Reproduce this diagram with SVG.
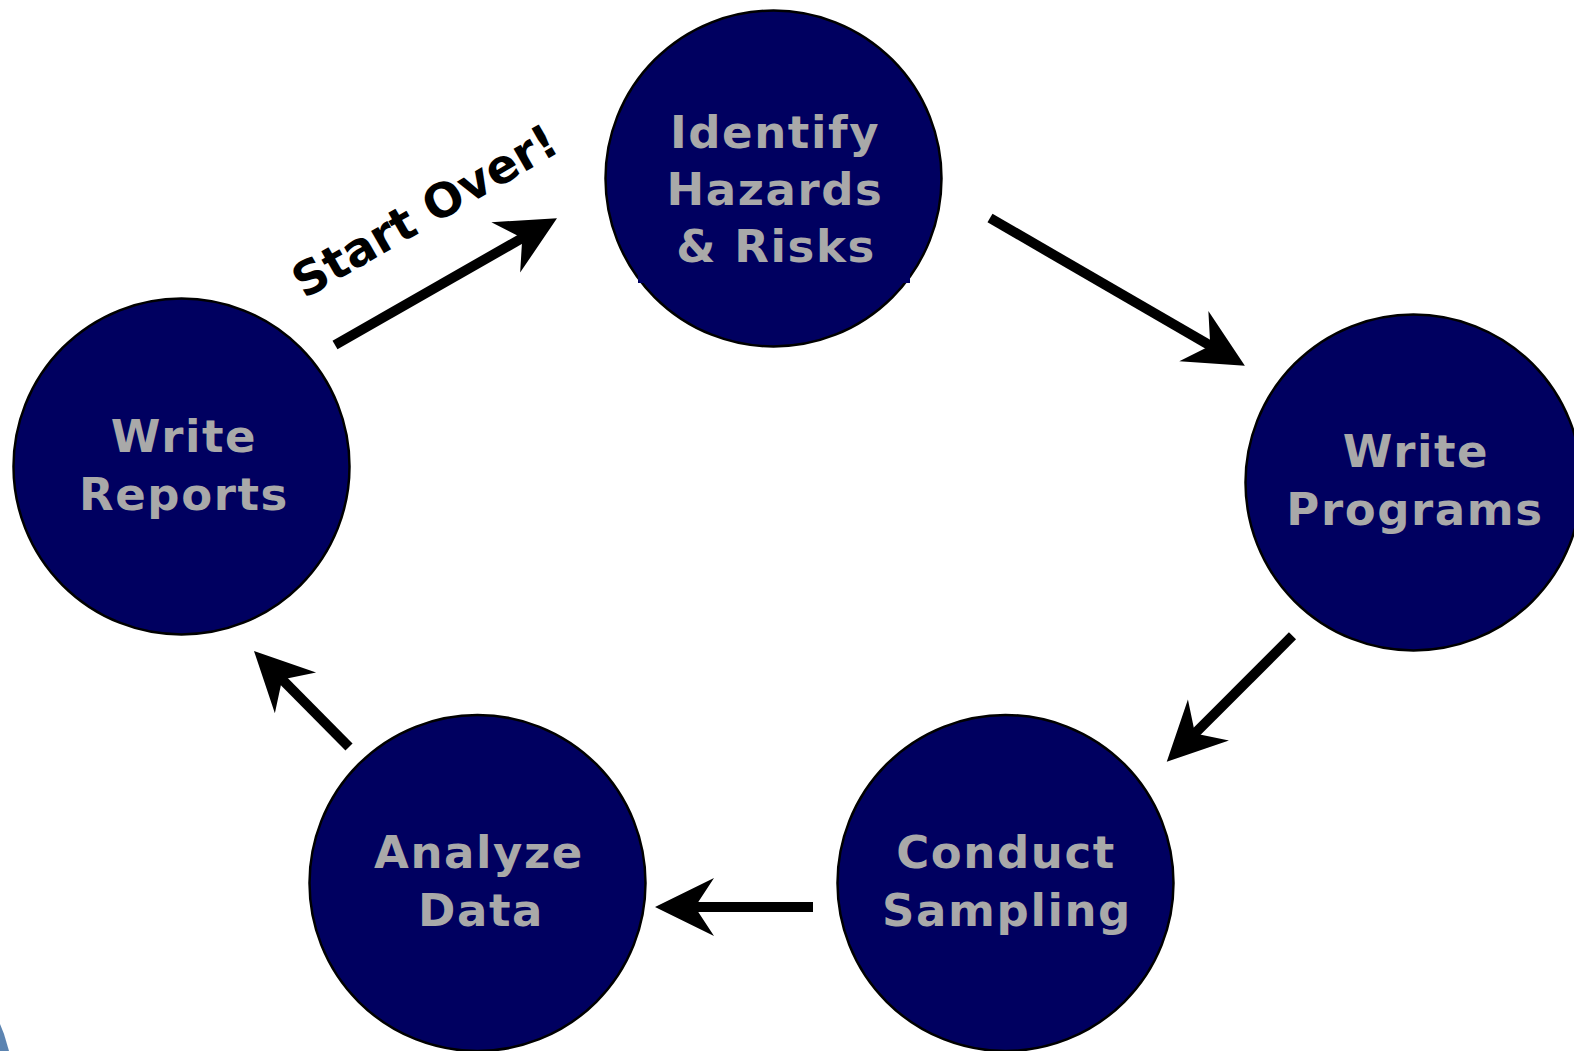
<svg xmlns="http://www.w3.org/2000/svg" width="1574" height="1051" viewBox="0 0 1574 1051">
<style>
.node circle{fill:#000060;stroke:#000;stroke-width:2.5}
.lbl{font-family:"DejaVu Sans",Verdana,sans-serif;font-weight:bold;font-size:45px;fill:#a9a9a9;text-anchor:middle;letter-spacing:1.6px}
.conn path.line{fill:none;stroke:#000;stroke-width:10;stroke-linecap:butt}
.so{font-family:"DejaVu Sans",Verdana,sans-serif;font-weight:bold;font-size:47px;fill:#000;text-anchor:middle}
</style>
<defs>
<marker id="ah" markerUnits="userSpaceOnUse" viewBox="-25 -32 66 64" markerWidth="66" markerHeight="64" refX="0" refY="0" orient="auto" overflow="visible">
<path d="M-2,0 L-21,-29 L38,0 L-21,29 Z" fill="#000"/>
</marker>
</defs>
<rect width="1574" height="1051" fill="#fff"/>
<path d="M0,1024 L4,1034 L9,1051 L0,1051 Z" fill="#3f6fa3" opacity="0.85"/>
<g id="n-identify" class="node">
<circle cx="773.5" cy="178.5" r="168"/>
<rect x="638" y="150" width="272" height="133" fill="#000060"/>
<text class="lbl" x="775" y="148">Identify</text>
<text class="lbl" x="775" y="205">Hazards</text>
<text class="lbl" x="776" y="262">&amp; Risks</text>
</g>
<g id="n-programs" class="node">
<circle cx="1413.5" cy="482.5" r="168"/>
<text class="lbl" x="1416" y="467">Write</text>
<text class="lbl" x="1415" y="525">Programs</text>
</g>
<g id="n-sampling" class="node">
<circle cx="1005.5" cy="883" r="168"/>
<text class="lbl" x="1006" y="868">Conduct</text>
<text class="lbl" x="1007" y="926">Sampling</text>
</g>
<g id="n-analyze" class="node">
<circle cx="477.5" cy="883" r="168"/>
<text class="lbl" x="479" y="868">Analyze</text>
<text class="lbl" x="481" y="926">Data</text>
</g>
<g id="n-reports" class="node">
<circle cx="181.5" cy="466.5" r="168"/>
<text class="lbl" x="184" y="452">Write</text>
<text class="lbl" x="184" y="510">Reports</text>
</g>
<g id="connectors" class="conn">
<path class="line" d="M335,345 L524,237" marker-end="url(#ah)"/>
<path class="line" d="M990,218 L1212,346.7" marker-end="url(#ah)"/>
<path class="line" d="M1292.5,635.8 L1193.6,734.8" marker-end="url(#ah)"/>
<path class="line" d="M813,907 L693,907" marker-end="url(#ah)"/>
<path class="line" d="M349,747 L280.7,678" marker-end="url(#ah)"/>
<text class="so" transform="translate(433,225) rotate(-30)">Start Over!</text>
</g>
</svg>
